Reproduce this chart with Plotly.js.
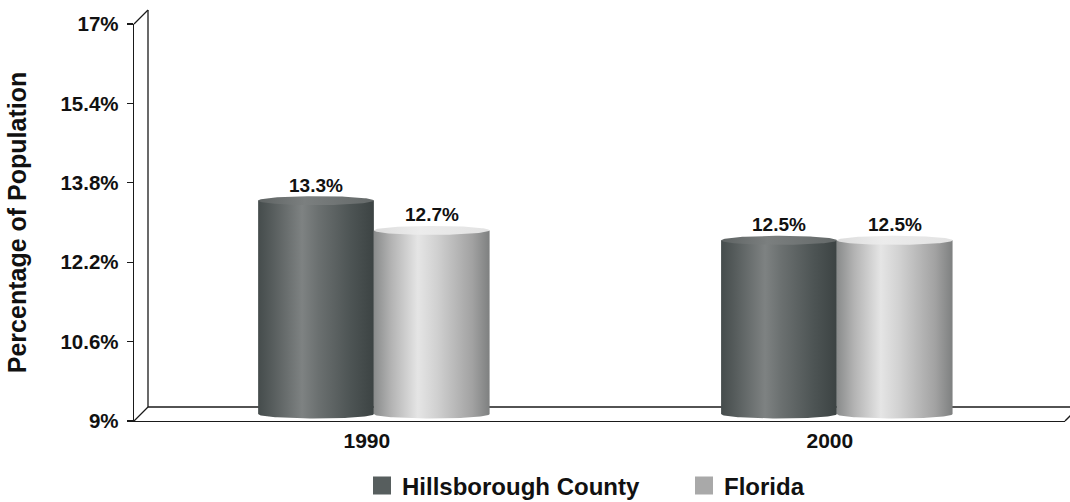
<!DOCTYPE html>
<html>
<head>
<meta charset="utf-8">
<script src="https://cdn.plot.ly/plotly-3.0.1.min.js"></script>
<style>html,body{margin:0;padding:0;background:#fff;}#chart{width:1070px;height:502px;}</style>
</head>
<body>
<div id="chart"></div>
<script>
const categories = ['1990', '2000'];
const seriesNames = ['Hillsborough County', 'Florida'];
const hillsborough = [13.3, 12.5];
const florida = [12.7, 12.5];
const valueLabels = [['13.3%', '12.5%'], ['12.7%', '12.5%']];
const yTickVals = [9, 10.6, 12.2, 13.8, 15.4, 17];
const yTickText = ['9%', '10.6%', '12.2%', '13.8%', '15.4%', '17%'];

const series = [hillsborough, florida];
const FONT = 'Liberation Sans, Arial, sans-serif';
const W = 1070, H = 502;
const M = {l: 134, r: 5, t: 24, b: 81, autoexpand: false};
const plotW = W - M.l - M.r, plotH = H - M.t - M.b;
const xRange = [-0.503, 1.508];
const yRange = [9, 17];
const depth = 14; // px, 3D depth of the frame
const half = depth / 2;
const pxPerX = plotW / (xRange[1] - xRange[0]);
const pxPerY = plotH / (yRange[1] - yRange[0]);
// mid-depth plane axes (bars live here)
const x2Range = [xRange[0] - half / pxPerX, xRange[1] - half / pxPerX];
const y2Range = [yRange[0] - half / pxPerY, yRange[1] - half / pxPerY];

const barW = 0.25;
const rx = barW / 2;
const ry = 4.5 / pxPerY;
const offsets = [-barW / 2, barW / 2];

const bodyScales = [
  [[0, '#454c4c'], [0.12, '#565c5c'], [0.38, '#7e8282'], [0.52, '#6b7070'], [0.8, '#4d5454'], [1, '#3c4343']],
  [[0, '#898b8b'], [0.15, '#b3b3b3'], [0.38, '#e5e5e5'], [0.55, '#d0d0d0'], [0.85, '#a2a2a2'], [1, '#7e8080']]
];
const topScales = [
  [[0, '#5e6363'], [0.4, '#7b7f7f'], [1, '#646969']],
  [[0, '#dcdcdc'], [0.4, '#ececec'], [1, '#e2e2e2']]
];
const legendColors = ['#575e5e', '#a9a9a9'];

const traces = [];
const annotations = [];
const N = 60;
series.forEach((vals, s) => {
  vals.forEach((v, i) => {
    const xc = i + offsets[s];
    const base = yRange[0];
    const bx = [xc - rx, xc + rx, xc + rx], by = [v, v, base];
    for (let k = 0; k <= N; k++) {
      const t = Math.PI * k / N;
      bx.push(xc + rx * Math.cos(t));
      by.push(base - ry * Math.sin(t));
    }
    bx.push(xc - rx); by.push(v);
    traces.push({
      type: 'scatter', mode: 'lines', x: bx, y: by, xaxis: 'x2', yaxis: 'y2',
      fill: 'toself', line: {width: 0, color: 'rgba(0,0,0,0)'},
      fillgradient: {type: 'horizontal', colorscale: bodyScales[s]},
      showlegend: false, hoverinfo: 'skip'
    });
    const tx = [], ty = [];
    for (let k = 0; k <= 2 * N; k++) {
      const t = Math.PI * k / N;
      tx.push(xc + rx * Math.cos(t));
      ty.push(v + ry * Math.sin(t));
    }
    traces.push({
      type: 'scatter', mode: 'lines', x: tx, y: ty, xaxis: 'x2', yaxis: 'y2',
      fill: 'toself', line: {width: 0, color: 'rgba(0,0,0,0)'},
      fillgradient: {type: 'horizontal', colorscale: topScales[s]},
      showlegend: false, hoverinfo: 'skip'
    });
    annotations.push({
      xref: 'x2', yref: 'y2', x: xc, y: v, text: valueLabels[s][i],
      showarrow: false, yanchor: 'bottom', yshift: 3,
      font: {family: FONT, size: 19, color: '#111', weight: 'bold'}
    });
  });
});
seriesNames.forEach((n, s) => {
  traces.push({
    type: 'scatter', mode: 'markers', x: [null], y: [null], name: n,
    marker: {symbol: 'square', size: 16, color: legendColors[s], line: {width: 2, color: legendColors[s]}},
    hoverinfo: 'skip'
  });
});

const dx = depth / plotW, dy = depth / plotH;
const lineStyle = {color: '#1a1a1a', width: 1.3};
const seg = (x0, y0, x1, y1) => ({type: 'line', xref: 'paper', yref: 'paper', x0, y0, x1, y1, line: lineStyle, layer: 'below'});
const shapes = [
  seg(dx, dy, dx, 1 + dy),       // back wall vertical
  seg(0, 1, dx, 1 + dy),          // top diagonal
  seg(0, 0, dx, dy),              // bottom-left diagonal
  seg(dx, dy, 1 + dx, dy),        // back floor line
  seg(1, 0, 1 + dx, dy)           // right diagonal
];

const layout = {
  width: W, height: H,
  margin: M,
  paper_bgcolor: '#fff', plot_bgcolor: 'rgba(0,0,0,0)',
  showlegend: true,
  font: {family: FONT, color: '#111'},
  xaxis: {
    range: xRange, tickvals: [0, 1], ticktext: categories,
    showgrid: false, zeroline: false, showline: true, linecolor: '#1a1a1a', linewidth: 1.3,
    ticks: '', ticklabelstandoff: 0,
    tickfont: {family: FONT, size: 21, color: '#111', weight: 'bold'}
  },
  yaxis: {
    range: yRange, tickvals: yTickVals, ticktext: yTickText,
    showgrid: false, zeroline: false, showline: true, linecolor: '#1a1a1a', linewidth: 1.3,
    ticks: 'outside', ticklen: 6, tickcolor: '#1a1a1a', tickwidth: 1.3, ticklabelstandoff: 4,
    tickfont: {family: FONT, size: 20.5, color: '#111', weight: 'bold'},
    title: {text: 'Percentage of Population', standoff: 26,
      font: {family: FONT, size: 25, color: '#111', weight: 'bold'}}
  },
  xaxis2: {range: x2Range, overlaying: 'x', visible: false},
  yaxis2: {range: y2Range, overlaying: 'y', visible: false},
  legend: {
    orientation: 'h', x: (362 - M.l) / plotW, xanchor: 'left',
    y: (H - M.b - 486) / plotH, yanchor: 'middle',
    entrywidth: 277, bgcolor: 'rgba(0,0,0,0)',
    font: {family: FONT, size: 24, color: '#111', weight: 'bold'}
  },
  shapes: shapes,
  annotations: annotations
};

Plotly.newPlot('chart', traces, layout, {staticPlot: true, displayModeBar: false});
</script>
</body>
</html>
